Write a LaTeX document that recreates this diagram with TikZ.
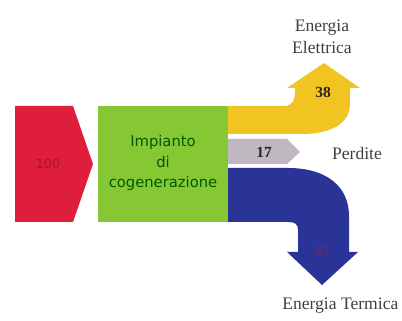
\documentclass[tikz,border=0pt]{standalone}
\usepackage{fontspec}
\setmainfont{Liberation Serif}
\newfontfamily\plantfont{DejaVu Sans}
\definecolor{inred}{RGB}{222,30,58}
\definecolor{plantgreen}{RGB}{134,200,52}
\definecolor{elecyellow}{RGB}{242,196,34}
\definecolor{lossgray}{RGB}{192,184,192}
\definecolor{heatblue}{RGB}{42,52,150}
\definecolor{heatnum}{RGB}{90,45,115}
\tikzset{
  label text/.style={text=black!75, font=\fontsize{12.5}{16}\selectfont, align=center, inner sep=0pt},
  value text/.style={font=\bfseries\fontsize{11}{13}\selectfont, inner sep=0pt}
}
\begin{document}
\begin{tikzpicture}[x=0.025cm, y=-0.025cm]
  \useasboundingbox (0,0) rectangle (402,321);

  % -- Input (fuel) --
  \fill[inred] (15,106) -- (73,106) -- (93,164) -- (73,222) -- (15,222) -- cycle;
  \node[text=inred!75!black, font=\plantfont\fontsize{9}{11}\selectfont] (in) at (48,164) {100};

  % -- Cogeneration plant --
  \fill[plantgreen] (98,106) rectangle (228,222);
  \node[text=green!35!black, font=\plantfont\fontsize{10.5}{14.5}\selectfont, align=center] (plant) at (163,163)
    {Impianto\\di\\cogenerazione};

  % -- Electric energy (up) --
  \fill[elecyellow] (228,106) -- (284,106) .. controls (292,106) and (295,100) .. (295,93)
    -- (295,88) -- (287,88) -- (324,63) -- (360,88) -- (350,88) -- (350,104)
    .. controls (350,124) and (330,134) .. (302,134) -- (228,134) -- cycle;
  \node[value text, text=black!85] (elec) at (323,92) {38};
  \node[label text] (elecl) at (322,37) {Energia\\Elettrica};

  % -- Losses --
  \fill[lossgray] (228,139) -- (287,139) -- (300,152) -- (287,164) -- (228,164) -- cycle;
  \node[value text, text=black!85] (loss) at (264,152) {17};
  \node[label text] (lossl) at (357,153) {Perdite};

  % -- Thermal energy (down) --
  \fill[heatblue] (228,168) -- (288,168) .. controls (326,168) and (349,186) .. (349,216)
    -- (349,252) -- (358,252) -- (322,285) -- (287,252) -- (298,252) -- (298,230)
    .. controls (298,224) and (295,222) .. (288,222) -- (228,222) -- cycle;
  \node[value text, text=heatnum] (heat) at (322,250) {45};
  \node[label text, anchor=west] (heatl) at (282,306) {Energia Termica};

\end{tikzpicture}
\end{document}
